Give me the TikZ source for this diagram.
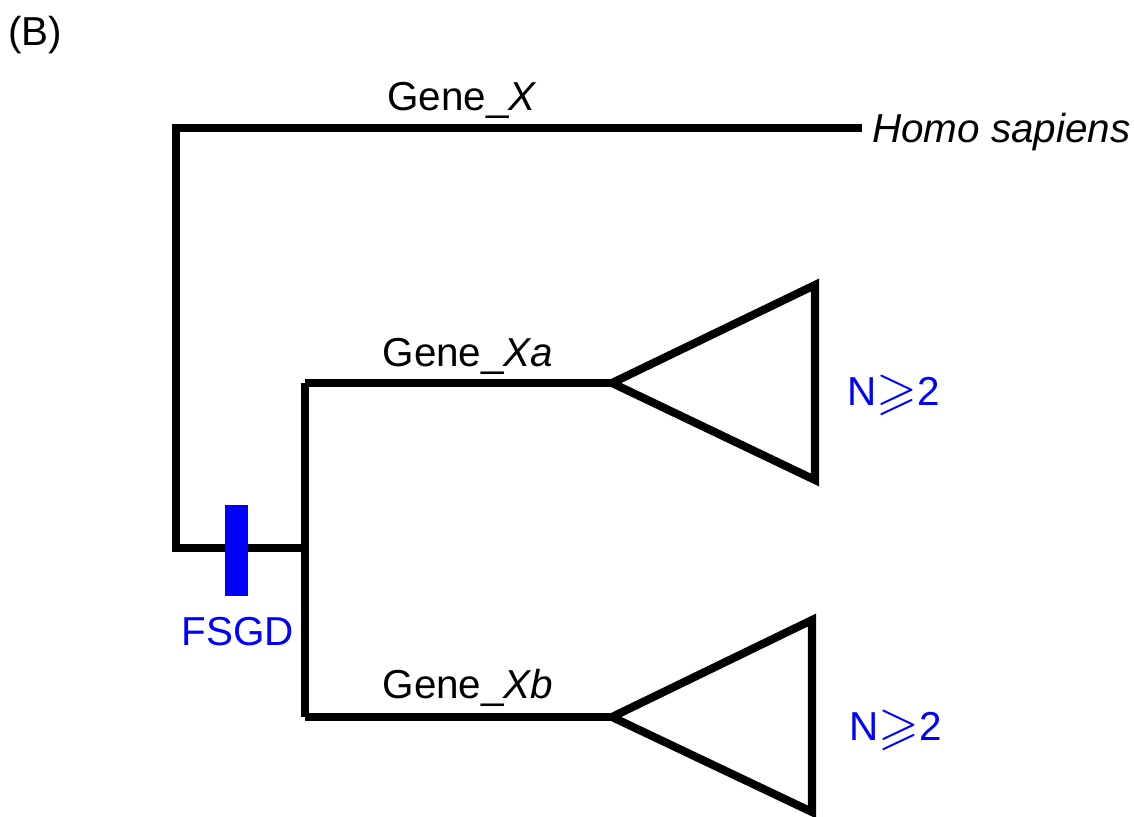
\documentclass[tikz,border=0pt]{standalone}
\usepackage{amssymb}
\usepackage{fontspec}
\setmainfont{Liberation Sans}
\usetikzlibrary{positioning}

\begin{document}
\begin{tikzpicture}[x=0.02cm, y=-0.02cm,
    branch/.style={line width=4.6pt, line join=miter},
    genelabel/.style={font=\fontsize{23}{27}\selectfont},
    bluelabel/.style={text=blue, font=\fontsize{23}{27}\selectfont}]
            \useasboundingbox (0,0) rectangle (1134,817);

            \coordinate (Root) at (176,548);
            \coordinate (RootTop) at (176,128);
            \coordinate (Hs) at (862,128);

            \coordinate (Dup) at (305,548);
            \coordinate (DupTop) at (305,383);
            \coordinate (DupBot) at (305,717);

            \coordinate (Xa) at (612,383);
            \coordinate (XaU) at (815,285);
            \coordinate (XaD) at (815,480);

            \coordinate (Xb) at (612,717);
            \coordinate (XbU) at (812,620);
            \coordinate (XbD) at (812,812);

            \draw[branch] (172,548)--(Root)--(RootTop)--(Hs);
            \draw[branch] (Root)--(Dup);
            \draw[branch] (DupTop)--(DupBot);
            \draw[branch] (DupTop)--(Xa);
            \draw[branch] (DupBot)--(Xb);

            \draw[branch] (Xa)--(XaU)--(XaD)--cycle;
            \draw[branch] (Xb)--(XbU)--(XbD)--cycle;

            \fill[blue] (225,505) rectangle (248,596);

            \node[genelabel] (title) at (35,35) {(B)};
            \node[genelabel] (geneX) at (462,100) {Gene\_\textit{X}};
            \node[genelabel, anchor=west] (homo) at (866,132) {\textit{Homo sapiens}};
            \node[genelabel] (geneXa) at (468,356) {Gene\_\textit{Xa}};
            \node[genelabel] (geneXb) at (468,688) {Gene\_\textit{Xb}};
            \node[bluelabel] (fsgd) at (238,632) {FSGD};
            \node[bluelabel] (na) at (894,395) {N\raisebox{-0.1ex}{\scalebox{1.3}{$\geqslant$}}2};
            \node[bluelabel] (nb) at (896,730) {N\raisebox{-0.1ex}{\scalebox{1.3}{$\geqslant$}}2};
        \end{tikzpicture}
\end{document}
